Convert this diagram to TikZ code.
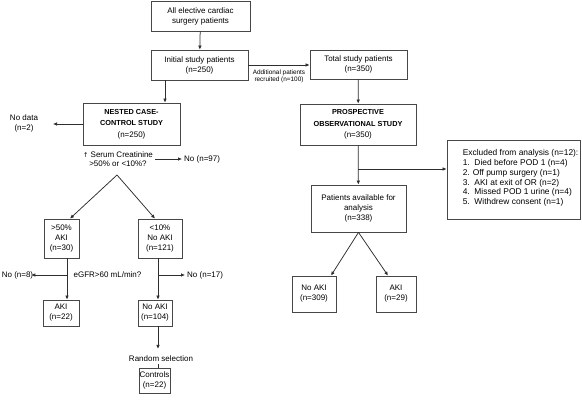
\documentclass[tikz,border=0pt]{standalone}
\usepackage{fontspec}
\setmainfont{Liberation Sans}
\usetikzlibrary{arrows.meta}
\newcommand\bttl[1]{{\fontsize{7.3}{11.5}\selectfont\bfseries #1}}
\begin{document}
\begin{tikzpicture}[x=1pt,y=-1pt,
  box/.style={draw=black!72,line width=0.8pt,align=center,inner sep=0pt,font=\fontsize{8}{10}\selectfont},
  lbl/.style={align=center,inner sep=0pt,font=\fontsize{8}{10}\selectfont},
  arr/.style={draw=black!82,line width=0.75pt,-{Latex[length=4pt,width=3.6pt]}},
  ln/.style={draw=black!82,line width=0.75pt}]
\useasboundingbox (0,0) rectangle (582,409);
\fill[white] (0,0) rectangle (582,409);
% top / right column
\node[box,minimum width=99pt,minimum height=30pt] (all) at (200.5,16) {All elective cardiac\\surgery patients};
\node[box,minimum width=97pt,minimum height=30pt] (init) at (199.5,65) {Initial study patients\\(n=250)};
\node[box,minimum width=97pt,minimum height=29pt] (total) at (358.5,64.5) {Total study patients\\(n=350)};
\node[box,minimum width=116pt,minimum height=41pt,font=\fontsize{8}{11.5}\selectfont] (prosp) at (358,124.5) {\bttl{PROSPECTIVE}\\\bttl{OBSERVATIONAL STUDY}\\(n=350)};
\node[box,minimum width=95pt,minimum height=47pt] (avail) at (358.5,208.5) {Patients available for\\analysis\\(n=338)};
\node[box,minimum width=133pt,minimum height=79pt] (excl) at (513.5,179.5) {};
\node[lbl,align=left,anchor=west,font=\fontsize{8.4}{9.8}\selectfont] (excltxt) at ([xshift=16pt,yshift=1.5pt]excl.west) {Excluded from analysis (n=12):\\1.\ \ Died before POD 1 (n=4)\\2. Off pump surgery (n=1)\\3.\ \ AKI at exit of OR (n=2)\\4.\ \ Missed POD 1 urine (n=4)\\5.\ \ Withdrew consent (n=1)};
\node[box,minimum width=44pt,minimum height=36pt] (noakiR) at (314,294) {No AKI\\(n=309)};
\node[box,minimum width=40pt,minimum height=36pt] (akiR) at (396,294) {AKI\\(n=29)};
\node[lbl,font=\fontsize{6.4}{6.8}\selectfont] (addl) at (279,76.5) {Additional patients\\recruited (n=100)};
% left column
\node[box,minimum width=97pt,minimum height=42pt,font=\fontsize{8}{11.5}\selectfont] (nested) at (131.5,124) {\bttl{NESTED CASE-}\\\bttl{CONTROL STUDY}\\(n=250)};
\node[lbl] (nodata) at (24,123.5) {No data\\(n=2)};
\node[lbl,font=\fontsize{8}{9.5}\selectfont] (serum) at (118,159) {{\fontspec{DejaVu Sans}\fontsize{6.5}{9.5}\selectfont↑} Serum Creatinine\\>50\% or <10\%?};
\node[lbl,anchor=west] (no97) at (184,159) {No (n=97)};
\coordinate (apexL) at (117,175);
\node[box,minimum width=35pt,minimum height=39pt] (gt50) at (61.5,238.5) {>50\%\\AKI\\(n=30)};
\node[box,minimum width=44pt,minimum height=39pt] (lt10) at (160,238.5) {<10\%\\No AKI\\(n=121)};
\node[lbl] (egfr) at (107.5,275) {eGFR>60 mL/min?};
\node[lbl] (no8) at (17.5,275) {No (n=8)};
\node[lbl,anchor=west] (no17) at (187,275) {No (n=17)};
\node[box,minimum width=36pt,minimum height=26pt] (akiL) at (61,313) {AKI\\(n=22)};
\node[box,minimum width=34pt,minimum height=26pt] (noakiL) at (155,313) {No AKI\\(n=104)};
\node[lbl] (rand) at (161,359) {Random selection};
\node[box,minimum width=31pt,minimum height=25pt] (ctrl) at (154.5,380.5) {Controls\\(n=22)};
\coordinate (vL) at (67,0);
\coordinate (vR) at (158,0);
\coordinate (vT) at (165,0);
\coordinate (brY) at (0,169);
\coordinate (ndX) at (53,0);
% connectors
\draw[arr] (all) -- (init);
\draw[arr] (init.south -| vT) -- (nested.north -| vT);
\draw[arr] (init.east) -- (init.east -| total.west);
\draw[arr] (total) -- (prosp);
\draw[arr] (prosp) -- (avail);
\draw[arr] (prosp.south |- brY) -- (excl.west |- brY);
\draw[arr] (avail.south) -- ([xshift=17pt]noakiR.north);
\draw[arr] (avail.south) -- ([xshift=-8pt]akiR.north);
\draw[arr] (nested.west) -- (nested.west -| ndX);
\draw[arr] ([xshift=2pt]serum.east) -- ([xshift=-2pt]no97.west);
\draw[arr] (apexL) -- ([xshift=8.5pt]gt50.north);
\draw[arr] (apexL) -- ([xshift=-5pt]lt10.north);
\draw[arr] (gt50.south -| vL) -- (akiL.north -| vL);
\draw[arr] (egfr.center -| vL) -- ([xshift=-2pt]no8.east);
\draw[arr] (lt10.south -| vR) -- (noakiL.north -| vR);
\draw[arr] (egfr.center -| vR) -- ([xshift=-2pt]no17.west);
\draw[arr] (noakiL.south -| vR) -- ([yshift=7pt]rand.north -| vR);
\draw[ln] ([yshift=-2pt]rand.south -| vR) -- (ctrl.north -| vR);
\end{tikzpicture}
\end{document}
